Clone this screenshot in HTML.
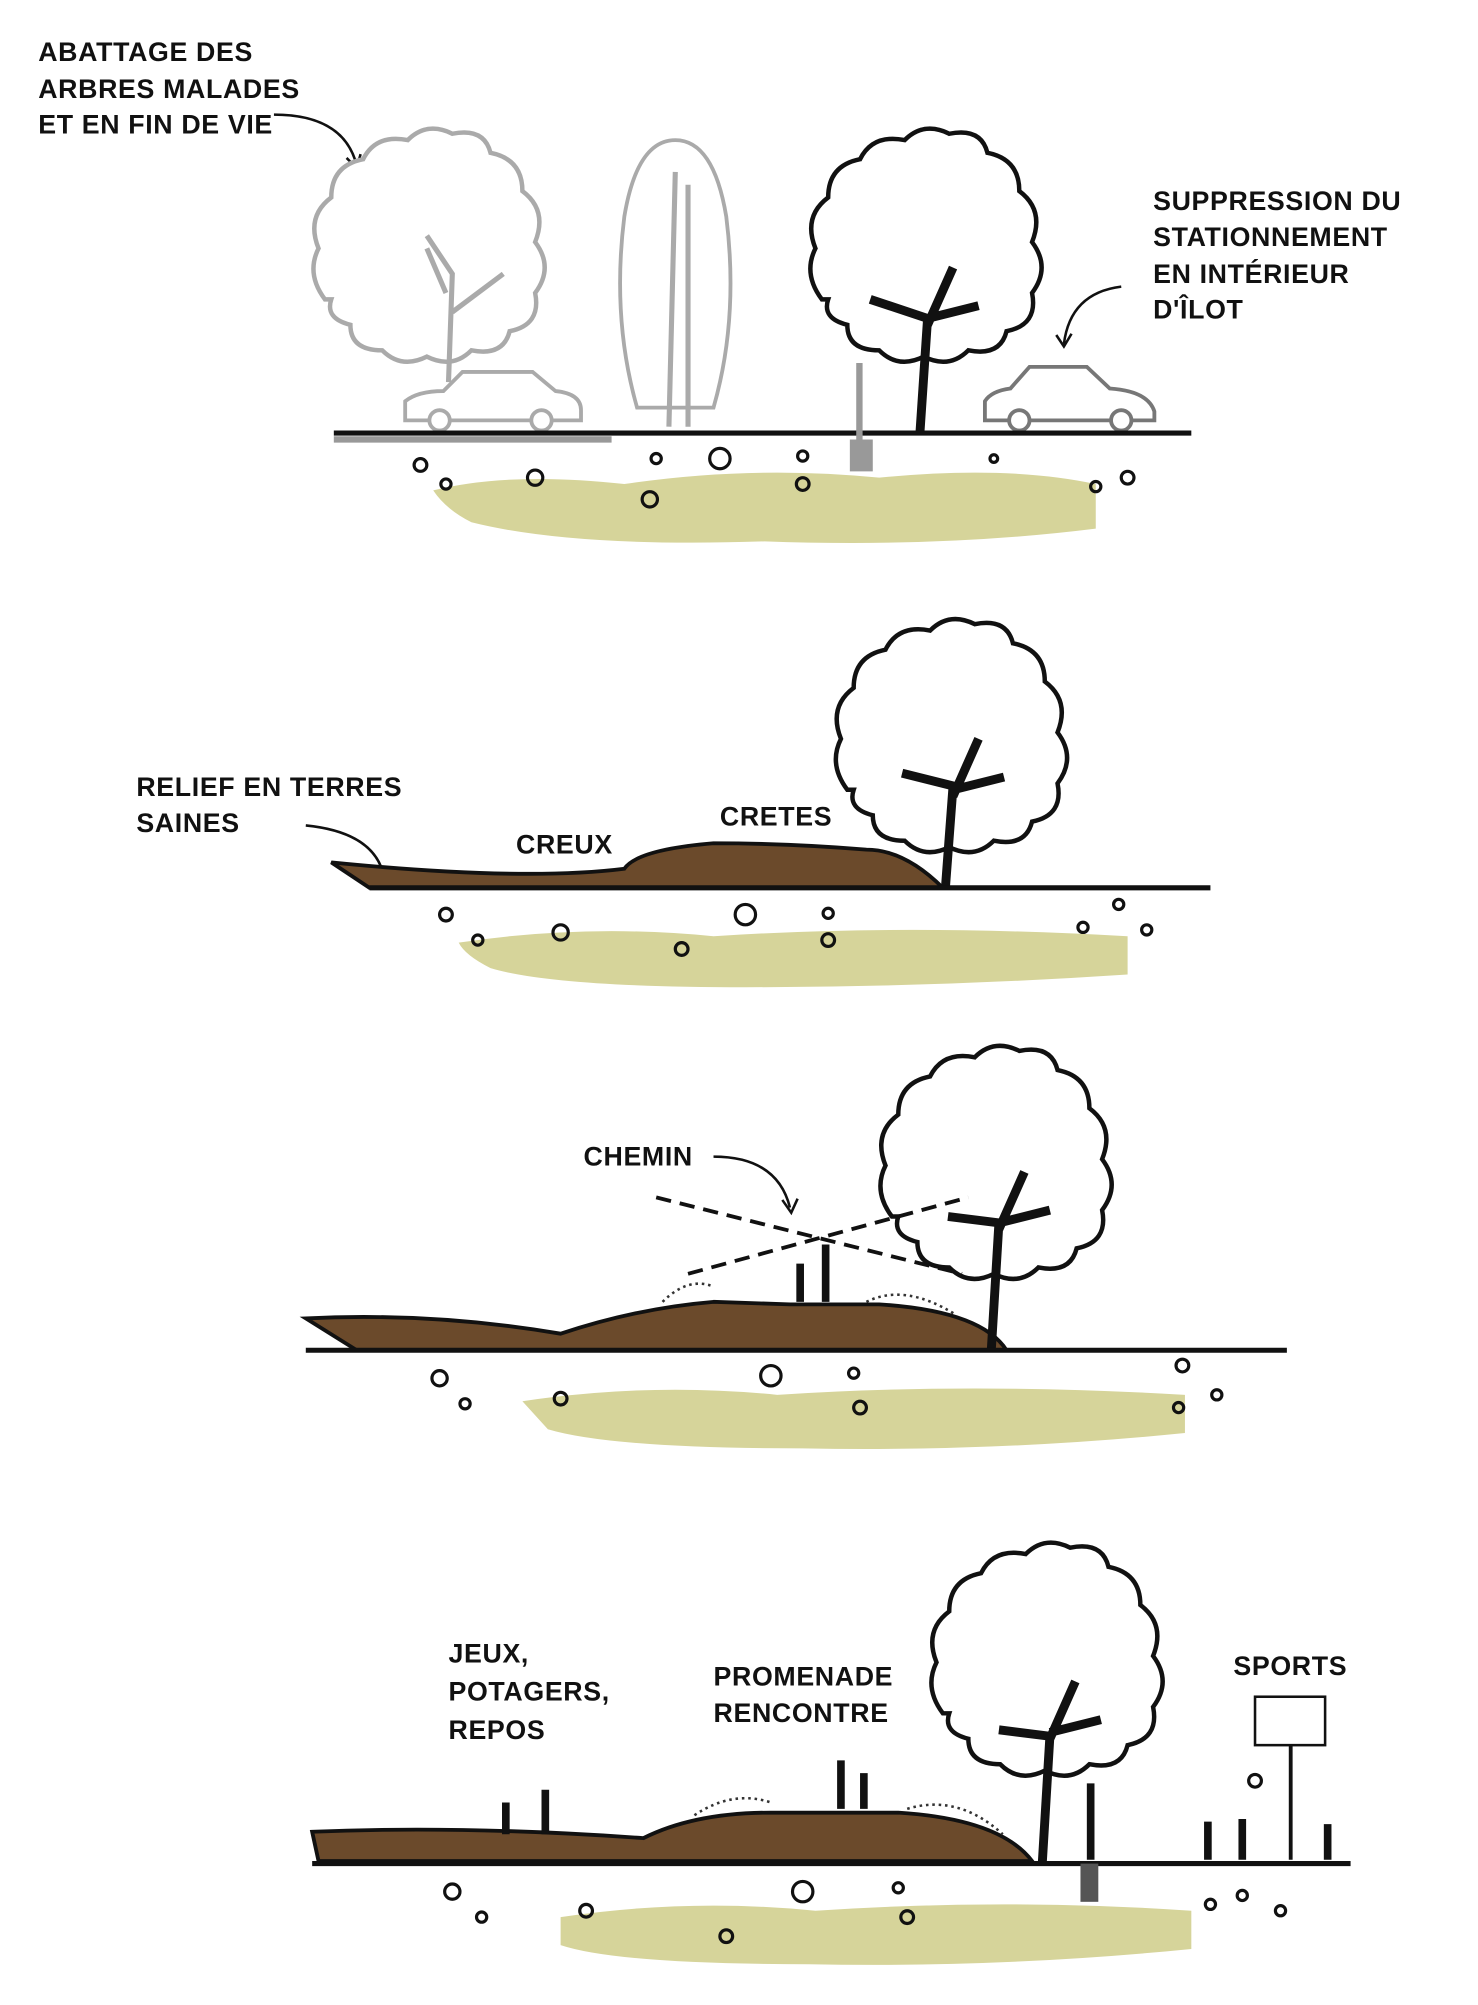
<!DOCTYPE html>
<html><head><meta charset="utf-8"><style>
html,body{margin:0;padding:0;background:#fff}
svg{display:block}
text{font-family:"Liberation Sans",sans-serif;font-weight:bold;font-size:21px;fill:#111;letter-spacing:0.5px}
</style></head><body>
<svg width="1478" height="2005" viewBox="0 0 1160 1574" preserveAspectRatio="none" xmlns="http://www.w3.org/2000/svg">
<defs>
<g id="crown"><path d="M-80,10 q-15,-20 -5,-40 q-10,-25 10,-40 q0,-25 25,-30 q10,-20 35,-15 q15,-15 35,-5 q25,-5 30,15 q25,5 25,30 q20,15 10,40 q15,20 0,40 q5,25 -20,30 q-5,20 -30,15 q-15,15 -35,5 q-20,10 -35,-5 q-25,0 -25,-20 q-20,-5 -15,-20 z" fill="#fff" stroke-width="3.5"/></g>
</defs>

<!-- PANEL 1 -->
<text x="30" y="48">ABATTAGE DES</text>
<text x="30" y="77">ARBRES MALADES</text>
<text x="30" y="105">ET EN FIN DE VIE</text>
<path d="M215,90 q55,0 65,40" fill="none" stroke="#111" stroke-width="2"/>
<path d="M272,124 l8,8 l3,-11" fill="none" stroke="#111" stroke-width="2"/>
<text x="905" y="165">SUPPRESSION DU</text>
<text x="905" y="193">STATIONNEMENT</text>
<text x="905" y="222">EN INTÉRIEUR</text>
<text x="905" y="250">D'ÎLOT</text>
<path d="M880,225 q-40,5 -45,45" fill="none" stroke="#111" stroke-width="2"/>
<path d="M829,263 l6,9 l6,-10" fill="none" stroke="#111" stroke-width="2"/>

<path d="M340,385 q60,-15 150,-5 q100,-15 200,-5 q100,-10 170,5 l0,35 q-120,15 -260,10 q-150,5 -230,-15 q-20,-10 -30,-25z" fill="#d6d49a"/>
<g transform="translate(335,225)" stroke="#aaa"><use href="#crown"/></g>
<path d="M352,300 l3,-85 l-20,-30 M355,245 l40,-30 M350,230 l-15,-35" stroke="#aaa" stroke-width="4" fill="none"/>
<path d="M530,110 q30,0 40,60 q10,80 -10,150 l-60,0 q-20,-70 -10,-150 q10,-60 40,-60z" fill="#fff" stroke="#aaa" stroke-width="3"/>
<path d="M525,335 l5,-200 M540,335 l0,-190" stroke="#aaa" stroke-width="4"/>
<g transform="translate(725,225)" stroke="#111"><use href="#crown"/></g>
<path d="M722,340 l6,-90 l-45,-15 M728,255 l20,-45 M728,250 l40,-10" stroke="#111" stroke-width="7" fill="none"/>
<path d="M318,330 l0,-15 q10,-8 30,-8 l15,-15 l55,0 l18,15 q20,2 20,15 l0,8z" fill="#fff" stroke="#aaa" stroke-width="3"/>
<circle cx="345" cy="330" r="8" fill="#fff" stroke="#aaa" stroke-width="3"/><circle cx="425" cy="330" r="8" fill="#fff" stroke="#aaa" stroke-width="3"/>
<path d="M773,330 l0,-15 q5,-8 20,-10 l15,-17 l45,0 l18,17 q30,2 35,18 l0,7z" fill="#fff" stroke="#777" stroke-width="3"/>
<circle cx="800" cy="330" r="8" fill="#fff" stroke="#777" stroke-width="3"/><circle cx="880" cy="330" r="8" fill="#fff" stroke="#777" stroke-width="3"/>
<line x1="262" y1="340" x2="935" y2="340" stroke="#111" stroke-width="4"/>
<line x1="262" y1="345" x2="480" y2="345" stroke="#999" stroke-width="5"/>
<path d="M672,285 l5,0 l0,60 l8,0 l0,25 l-18,0 l0,-25 l5,0z" fill="#999"/>
<g fill="none" stroke="#111" stroke-width="2.5"><circle cx="330" cy="365" r="5"/><circle cx="350" cy="380" r="4"/><circle cx="420" cy="375" r="6"/><circle cx="515" cy="360" r="4"/><circle cx="565" cy="360" r="8"/><circle cx="630" cy="358" r="4"/><circle cx="630" cy="380" r="5"/><circle cx="510" cy="392" r="6"/><circle cx="860" cy="382" r="4"/><circle cx="885" cy="375" r="5"/><circle cx="780" cy="360" r="3"/></g>

<!-- PANEL 2 -->
<text x="107" y="625">RELIEF EN TERRES</text>
<text x="107" y="653">SAINES</text>
<text x="405" y="670">CREUX</text>
<text x="565" y="648">CRETES</text>
<path d="M240,648 q50,5 60,35" fill="none" stroke="#111" stroke-width="2"/>
<path d="M360,740 q100,-15 200,-5 q150,-10 325,0 l0,30 q-150,10 -300,10 q-150,0 -200,-15 q-20,-10 -25,-20z" fill="#d6d49a"/>
<path d="M260,677 l30,20 l450,0 q-30,-30 -60,-30 q-60,-5 -120,-5 q-60,5 -70,20 q-80,10 -230,-5z" fill="#6b4a2b" stroke="#111" stroke-width="3"/>
<g transform="translate(745,610)" stroke="#111"><use href="#crown"/></g>
<path d="M742,697 l6,-80 l-40,-10 M748,625 l20,-45 M748,620 l40,-10" stroke="#111" stroke-width="7" fill="none"/>
<line x1="290" y1="697" x2="950" y2="697" stroke="#111" stroke-width="4"/>
<g fill="none" stroke="#111" stroke-width="2.5"><circle cx="350" cy="718" r="5"/><circle cx="375" cy="738" r="4"/><circle cx="440" cy="732" r="6"/><circle cx="585" cy="718" r="8"/><circle cx="650" cy="717" r="4"/><circle cx="650" cy="738" r="5"/><circle cx="535" cy="745" r="5"/><circle cx="850" cy="728" r="4"/><circle cx="900" cy="730" r="4"/><circle cx="878" cy="710" r="4"/></g>

<!-- PANEL 3 -->
<text x="458" y="915">CHEMIN</text>
<path d="M560,908 q50,0 60,40" fill="none" stroke="#111" stroke-width="2"/>
<path d="M614,942 l7,10 l5,-11" fill="none" stroke="#111" stroke-width="2"/>
<path d="M410,1100 q100,-15 200,-5 q150,-10 320,0 l0,30 q-150,15 -300,12 q-150,0 -200,-15z" fill="#d6d49a"/>
<path d="M240,1035 q100,-5 200,12 q60,-20 120,-25 l60,2 l70,0 q80,5 100,36 l-510,0z" fill="#6b4a2b" stroke="#111" stroke-width="3"/>
<path d="M520,1022 q20,-20 40,-12 M680,1022 q30,-15 70,10" stroke="#333" stroke-width="2" stroke-dasharray="2 3" fill="none"/>
<g transform="translate(780,945)" stroke="#111"><use href="#crown"/></g>
<path d="M778,1060 l6,-100 l-40,-5 M784,965 l20,-45 M784,960 l40,-10" stroke="#111" stroke-width="7" fill="none"/>
<path d="M515,940 l240,60 M540,1000 l220,-60" stroke="#111" stroke-width="3" stroke-dasharray="12 7"/>
<path d="M628,1022 l0,-30 M648,1022 l0,-45" stroke="#111" stroke-width="6"/>
<line x1="240" y1="1060" x2="1010" y2="1060" stroke="#111" stroke-width="4"/>
<g fill="none" stroke="#111" stroke-width="2.5"><circle cx="345" cy="1082" r="6"/><circle cx="365" cy="1102" r="4"/><circle cx="440" cy="1098" r="5"/><circle cx="605" cy="1080" r="8"/><circle cx="670" cy="1078" r="4"/><circle cx="675" cy="1105" r="5"/><circle cx="925" cy="1105" r="4"/><circle cx="955" cy="1095" r="4"/><circle cx="928" cy="1072" r="5"/></g>

<!-- PANEL 4 -->
<text x="352" y="1305">JEUX,</text>
<text x="352" y="1335">POTAGERS,</text>
<text x="352" y="1365">REPOS</text>
<text x="560" y="1323">PROMENADE</text>
<text x="560" y="1352">RENCONTRE</text>
<text x="968" y="1315">SPORTS</text>
<path d="M440,1505 q100,-15 200,-5 q150,-10 295,0 l0,30 q-150,15 -300,12 q-150,0 -195,-15z" fill="#d6d49a"/>
<path d="M245,1438 q120,-5 260,5 q40,-20 100,-20 l20,0 l80,0 q80,5 105,38 l-560,0z" fill="#6b4a2b" stroke="#111" stroke-width="3"/>
<path d="M545,1425 q30,-20 60,-10 M712,1420 q40,-12 75,20" stroke="#333" stroke-width="2" stroke-dasharray="2 3" fill="none"/>
<g transform="translate(820,1335)" stroke="#111"><use href="#crown"/></g>
<path d="M818,1463 l6,-100 l-40,-5 M824,1365 l20,-45 M824,1360 l40,-10" stroke="#111" stroke-width="7" fill="none"/>
<path d="M397,1440 l0,-25 M428,1440 l0,-35 M660,1420 l0,-38 M678,1420 l0,-28 M948,1460 l0,-30 M975,1460 l0,-32 M1042,1460 l0,-28 M856,1460 l0,-60" stroke="#111" stroke-width="6"/>
<rect x="985" y="1332" width="55" height="38" fill="#fff" stroke="#111" stroke-width="2"/>
<line x1="1013" y1="1370" x2="1013" y2="1460" stroke="#111" stroke-width="3"/>
<line x1="245" y1="1463" x2="1060" y2="1463" stroke="#111" stroke-width="4"/>
<rect x="848" y="1463" width="14" height="30" fill="#555"/>
<g fill="none" stroke="#111" stroke-width="2.5"><circle cx="355" cy="1485" r="6"/><circle cx="378" cy="1505" r="4"/><circle cx="460" cy="1500" r="5"/><circle cx="630" cy="1485" r="8"/><circle cx="705" cy="1482" r="4"/><circle cx="712" cy="1505" r="5"/><circle cx="570" cy="1520" r="5"/><circle cx="950" cy="1495" r="4"/><circle cx="1005" cy="1500" r="4"/><circle cx="975" cy="1488" r="4"/><circle cx="985" cy="1398" r="5"/></g>
</svg>
</body></html>
